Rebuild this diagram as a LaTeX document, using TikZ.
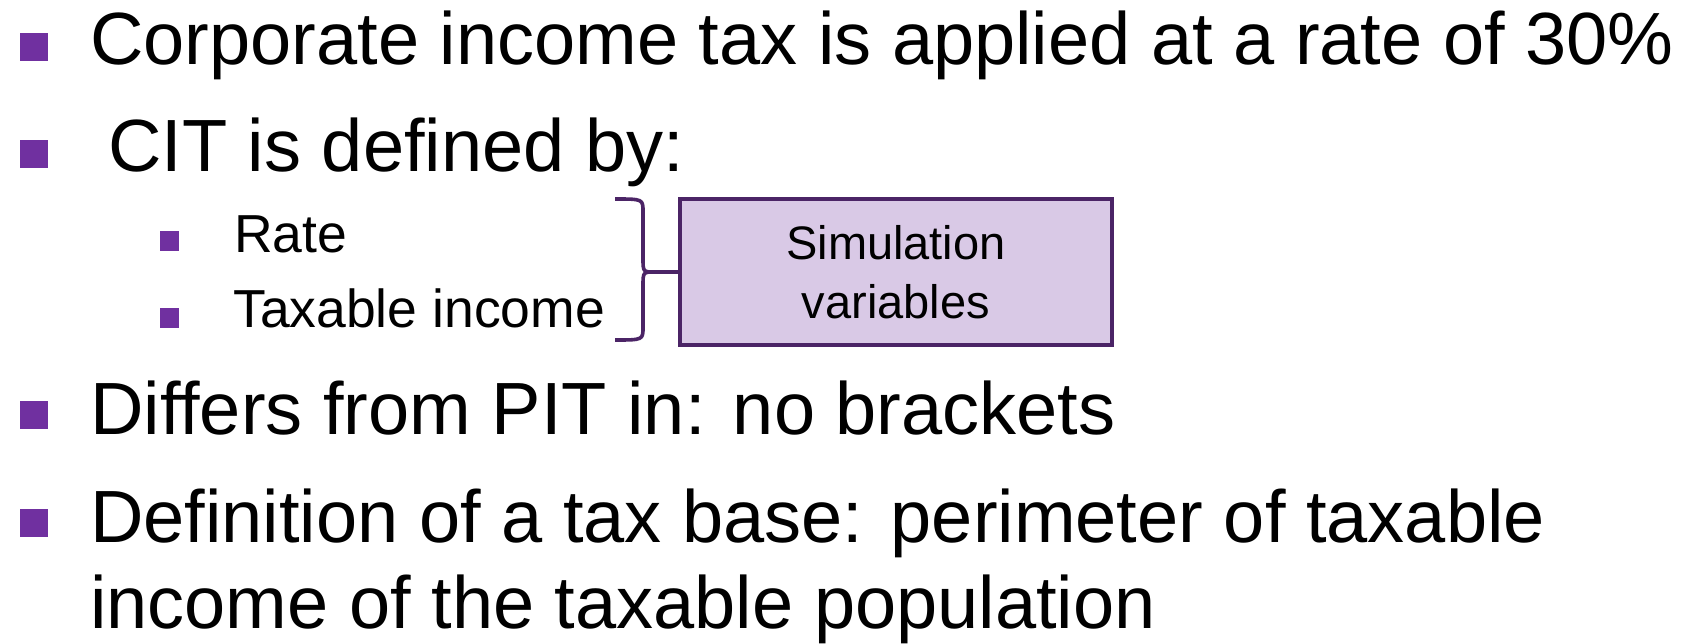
\documentclass[tikz,border=0pt]{standalone}
\usepackage{fontspec}
\setmainfont{Liberation Sans}
\definecolor{bulletpurple}{HTML}{7030A0}
\definecolor{boxborder}{HTML}{4B2466}
\definecolor{boxfill}{HTML}{D9C9E6}
\tikzset{
  mainbullet/.style={fill=bulletpurple, draw=none},
  maintext/.style={anchor=base west, inner sep=0pt, font=\fontsize{74}{80}\selectfont},
  subtext/.style={anchor=base west, inner sep=0pt, font=\fontsize{53.5}{60}\selectfont},
  simbox/.style={draw=boxborder, line width=3.2pt, fill=boxfill, minimum width=432pt, minimum height=146pt, align=center, inner sep=0pt, font=\fontsize{47}{59}\selectfont},
  bracestyle/.style={draw=boxborder, line width=3.6pt}
}
\begin{document}
\begin{tikzpicture}[x=1pt,y=-1pt]
\useasboundingbox (0,0) rectangle (1701,644);
% bullets
\fill[mainbullet] (20,33) rectangle (48,61);
\fill[mainbullet] (20,140) rectangle (48,168);
\fill[mainbullet] (160,231) rectangle (179,251);
\fill[mainbullet] (160,308) rectangle (179,328);
\fill[mainbullet] (20,401) rectangle (48,429);
\fill[mainbullet] (20,509) rectangle (48,537);
% texts
\node[maintext] (l1) at (90,65) {Corporate income tax is applied at a rate of 30\%};
\node[maintext] (l2) at (108,172) {CIT is defined by:};
\node[subtext] (s1) at (234,253) {Rate};
\node[subtext] (s2) at (233,328) {Taxable income};
\node[maintext] (l3) at (90,434) {Differs from PIT in: no brackets};
\node[maintext] (l4) at (90,542) {Definition of a tax base: perimeter of taxable};
\node[maintext] (l5) at (90,628) {income of the taxable population};
% box
\node[simbox] (box) at (896,272) {Simulation\\variables};
% brace
\draw[bracestyle] (615,199) .. controls (643,199) .. (643,212) -- (643,258) .. controls (643,272) .. (655,272) -- (box.west);
\draw[bracestyle] (615,340) .. controls (643,340) .. (643,327) -- (643,286) .. controls (643,272) .. (655,272);
\end{tikzpicture}
\end{document}
